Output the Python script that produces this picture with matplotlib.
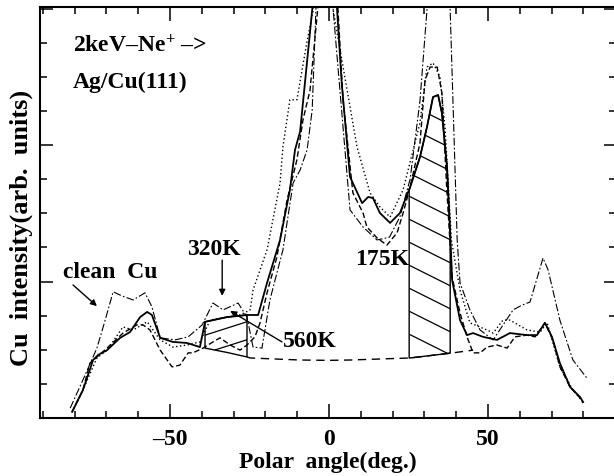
import numpy as np
import matplotlib
matplotlib.use("Agg")
import matplotlib.pyplot as plt
from matplotlib.ticker import MultipleLocator, NullFormatter

plt.rcParams['font.family'] = ['Liberation Serif', 'DejaVu Serif']
plt.rcParams['font.weight'] = 'bold'
plt.rcParams['mathtext.fontset'] = 'custom'
plt.rcParams['mathtext.rm'] = 'Liberation Serif:bold'
plt.rcParams['mathtext.bf'] = 'Liberation Serif:bold'
plt.rcParams['mathtext.default'] = 'bf'

# ---------------- data ----------------
solid_x = [-80.8, -77.4, -74.2, -72.6, -69.8, -65.7, -62.6, -59.4, -57.2, -55.7, -53.1, -49.1, -44.7,
           -40.6, -39.0, -32.0, -25.8, -22.3, -19.5, -15.4, -12.3, -10.7, -9.1, -5.3, -3.0, 0.0, 1.5,
           4.0, 6.6, 10.4, 12.3, 13.8, 16.0, 19.2, 22.3, 25.5, 28.6, 30.8, 32.7, 34.3, 35.5, 37.1, 38.1,
           38.7, 41.2, 43.4, 45.3, 48.4, 52.8, 56.9, 62.3, 65.4, 67.9, 70.1, 72.6, 75.8, 78.9, 79.9]
solid_y = [0.18, 0.82, 1.70, 1.85, 1.99, 2.35, 2.52, 2.96, 3.11, 3.02, 2.35, 2.23, 2.20,
           2.08, 2.82, 2.96, 3.02, 3.02, 3.96, 5.22, 6.69, 7.86, 8.40, 11.96, 13.8, 15.0, 13.5,
           9.80, 7.07, 6.30, 6.48, 6.45, 6.01, 5.72, 6.01, 6.77, 7.65, 8.53, 9.41, 9.47, 8.94, 7.36, 5.43,
           4.05, 2.87, 2.43, 2.49, 2.38, 2.29, 2.49, 2.43, 2.43, 2.79, 2.38, 1.61, 0.91, 0.62, 0.47]

dot_x = [-80.8, -77.4, -73.0, -69.8, -64.8, -61.6, -57.2, -53.1, -49.1, -44.7, -40.6, -37.4, -32.1,
         -28.0, -24.8, -23.9, -19.5, -15.4, -14.5, -12.3, -10.1, -7.0, -5.0, -2.5, 0.0, 1.3, 8.8,
         12.9, 16.0, 19.2, 23.3, 28.6, 30.8, 32.7, 34.9, 36.5, 38.5, 41.2, 44.3, 49.7, 51.6, 54.7,
         56.9, 62.3, 66.4, 68.6, 72.6, 76.7, 79.9]
dot_y = [0.18, 0.82, 1.76, 1.99, 2.67, 2.58, 2.82, 2.29, 2.08, 2.14, 2.23, 2.87, 2.96,
         3.02, 3.17, 3.75, 4.93, 6.89, 7.95, 9.33, 9.33, 11.0, 11.96, 13.8, 15.0, 11.96, 7.95,
         6.60, 6.19, 5.89, 6.69, 8.65, 10.29, 10.41, 10.0, 8.5, 5.2, 3.75, 2.79, 2.58, 2.49, 2.87,
         2.87, 2.58, 2.52, 2.79, 1.50, 0.82, 0.47]

dash_x = [-80.8, -77.4, -75.2, -69.8, -64.8, -60.4, -58.5, -56.3, -53.1, -49.4, -46.9, -44.3, -42.8,
          -39.6, -36.5, -34.3, -31.1, -28.0, -25.8, -23.3, -21.7, -19.5, -16.4, -13.2, -10.1, -8.2,
          -6.0, -3.5, 0.0, 2.5, 4.4, 7.5, 10.7, 11.9, 15.1, 18.2, 21.4, 23.3, 25.5, 28.6, 30.2, 31.8,
          34.0, 35.5, 37.1, 38.7, 41.2, 43.4, 45.3, 47.5, 49.7, 52.8, 56.0, 58.5, 62.3, 64.8, 67.9,
          70.4, 72.6, 75.8, 78.9, 79.9]
dash_y = [0.18, 0.82, 1.61, 2.05, 2.49, 2.73, 2.73, 2.58, 1.99, 1.50, 1.55, 1.91, 1.91,
          2.05, 2.23, 2.35, 2.14, 1.99, 2.14, 2.38, 2.79, 3.67, 4.72, 6.39, 7.57, 8.74,
          9.60, 12.05, 15.0, 12.5, 9.33, 6.60, 6.01, 5.60, 5.28, 5.07, 5.43, 6.01, 6.77, 8.06, 9.91, 10.29,
          10.29, 9.53, 6.60, 4.13, 3.08, 2.38, 1.91, 1.91, 2.08, 2.14, 2.05, 2.38, 2.43, 2.38, 2.79,
          2.29, 1.50, 0.91, 0.59, 0.44]

cu_x = [-81.4, -76.7, -73.0, -70.4, -67.9, -65.1, -61.6, -57.9, -55.7, -53.1, -48.4, -44.3, -39.9,
        -36.5, -33.3, -28.6, -25.8, -23.9, -21.1, -18.6, -14.5, -11.3, -9.1, -6.9, -5.3, -4.1, -2.0,
        0.0, 1.3, 6.6, 10.7, 15.1, 19.0, 22.3, 25.5, 28.6, 30.8, 33.0, 34.5, 36.5, 38.1, 40.3, 41.2,
        44.3, 47.5, 51.6, 57.9, 60.7, 63.2, 67.3, 68.9, 72.6, 76.7, 81.1]
cu_y = [0.29, 1.26, 2.05, 2.87, 3.70, 3.58, 3.46, 3.67, 3.26, 2.35, 2.29, 2.38, 2.73,
        3.37, 3.17, 3.37, 2.96, 2.08, 2.05, 3.46, 4.93, 6.89, 7.27, 7.86, 9.03, 12.05, 14.0,
        15.0, 11.96, 6.10, 5.60, 5.22, 5.30, 5.90, 7.00, 9.30, 11.96, 13.5, 14.0, 13.5, 11.96, 5.22, 3.96,
        3.17, 2.58, 2.29, 3.17, 3.31, 3.40, 4.69, 4.34, 2.87, 1.70, 1.17]

base_x = [-39.0, -32.0, -25.8, -24.8, -9.1, 0.0, 6.6, 25.5, 39.0, 45.3]
base_y = [2.05, 1.92, 1.79, 1.76, 1.70, 1.69, 1.70, 1.76, 1.91, 1.99]

left_region = (-39.0, -25.8)
right_region = (25.2, 38.1)

xticks_major = [-50, 0, 50]
xtick_labels = ['–50', '0', '50']

# ---------------- figure ----------------
fig = plt.figure(figsize=(6.14, 4.76), dpi=100)
ax = fig.add_axes([40 / 614, 58 / 476, 576 / 614, 411 / 476])
ax.set_xlim(-90.9, 90.25)
ax.set_ylim(0, 12.05)

ax.plot(cu_x, cu_y, color='black', lw=0.8, ls=(0, (7, 2, 1.5, 2)))
ax.plot(dot_x, dot_y, color='black', lw=1.0, ls=(0, (1, 1.8)))
ax.plot(dash_x, dash_y, color='black', lw=1.0, ls=(0, (4, 2)))
ax.plot(solid_x, solid_y, color='black', lw=1.3)

bx = np.array(base_x)
by = np.array(base_y)
mask = bx >= left_region[1]
ax.plot(bx[mask], by[mask], color='black', lw=1.0, ls=(0, (6, 4)))


def hatched(region, slope_px, spacing_px):
    xs = np.linspace(region[0], region[1], 120)
    top = np.interp(xs, solid_x, solid_y)
    bot = np.interp(xs, base_x, base_y)
    poly = ax.fill_between(xs, bot, top, facecolor='none', edgecolor='black', lw=1.0)
    # convert pixel slope/spacing to data units
    xpx = 576 / (90.25 + 90.9)
    ypx = 411 / 12.05
    slope = slope_px * xpx / ypx
    spacing = spacing_px / ypx
    lo = bot.min() - 2
    hi = top.max() + 2
    for b in np.arange(lo, hi, spacing):
        yy = b + slope * (xs - xs[0])
        ln, = ax.plot(xs, yy, color='black', lw=0.9)
        ln.set_clip_path(poly.get_paths()[0], ax.transData)


hatched(left_region, 0.32, 18)
hatched(right_region, -0.5, 23)

# ticks
ax.xaxis.set_major_locator(MultipleLocator(50))
ax.xaxis.set_minor_locator(MultipleLocator(10))
ax.set_xticks(xticks_major)
ax.set_xticklabels(xtick_labels)
ax.yaxis.set_major_locator(MultipleLocator(4))
ax.yaxis.set_minor_locator(MultipleLocator(1))
ax.yaxis.set_major_formatter(NullFormatter())
ax.tick_params(which='both', direction='in', top=True, right=True, width=1.1)
ax.tick_params(axis='x', which='major', length=10, labelsize=17, pad=8)
ax.tick_params(axis='x', which='minor', length=5)
ax.tick_params(axis='y', which='major', length=9)
ax.tick_params(axis='y', which='minor', length=5)
for lab in ax.get_xticklabels():
    lab.set_fontweight('bold')
for sp in ax.spines.values():
    sp.set_linewidth(1.5)

ax.set_xlabel('Polar  angle(deg.)', fontsize=17, fontweight='bold')
ax.xaxis.set_label_coords(0.5, -0.082)
ax.set_ylabel('Cu  intensity(arb.  units)', fontsize=19, fontweight='bold')
ax.yaxis.set_label_coords(-0.012, 0.462)

# annotations
ax.text(-80.5, 10.73, '2keV–Ne$^{+}$ –>', fontsize=17, fontweight='bold', va='baseline')
ax.text(-80.5, 9.68, 'Ag/Cu(111)', fontsize=17, fontweight='bold', va='baseline')
ax.text(-83.6, 4.10, 'clean  Cu', fontsize=17, fontweight='bold', va='baseline')
ax.text(-44.7, 4.78, '320K', fontsize=17, fontweight='bold', va='baseline')
ax.text(-14.5, 2.08, '560K', fontsize=17, fontweight='bold', va='baseline')
ax.text(8.2, 4.49, '175K', fontsize=17, fontweight='bold', va='baseline')

arrow = dict(arrowstyle='-|>', color='black', lw=1.0, mutation_scale=9, shrinkA=0, shrinkB=0)
ax.annotate('', xy=(-73.0, 3.28), xytext=(-80.5, 3.90), arrowprops=arrow)
ax.annotate('', xy=(-33.6, 3.58), xytext=(-33.6, 4.63), arrowprops=arrow)
ax.annotate('', xy=(-31.1, 3.14), xytext=(-14.8, 2.23), arrowprops=arrow)

fig.savefig('out.png', dpi=100)
